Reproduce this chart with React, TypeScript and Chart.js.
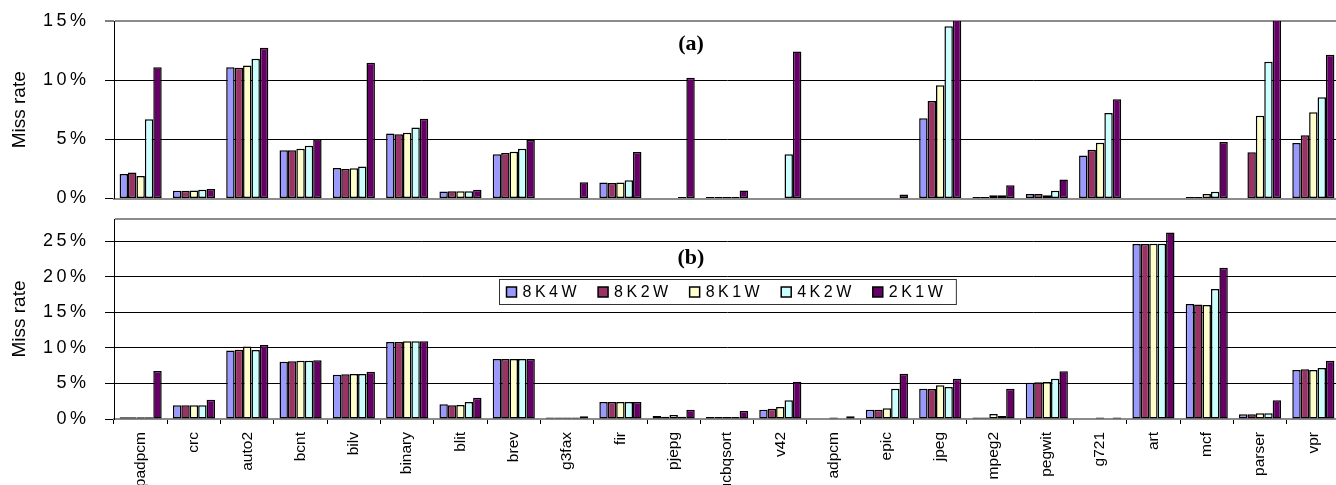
import React, { useEffect, useRef } from "react";
import { Chart, registerables } from "chart.js";

Chart.register(...registerables);

// ---------- data ----------
const categories = [
  "padpcm", "crc", "auto2", "bcnt", "bilv", "binary", "blit", "brev", "g3fax", "fir",
  "pjepg", "ucbqsort", "v42", "adpcm", "epic", "jpeg", "mpeg2", "pegwit", "g721", "art",
  "mcf", "parser", "vpr",
];
const seriesNames = ["8K4W", "8K2W", "8K1W", "4K2W", "2K1W"];
const seriesColors = ["#9999FF", "#993366", "#FFFFCC", "#CCFFFF", "#660066"];

// panel (a) miss rate, %
const a8K4W = [2.06, 0.65, 11.1, 4.07, 2.57, 5.5, 0.6, 3.73, null, 1.36, null, 0.07, null, null, null, 6.78, 0.11, 0.37, 3.64, null, 0.03, null, 4.69];
const a8K2W = [2.2, 0.65, 11.05, 4.07, 2.5, 5.42, 0.62, 3.84, null, 1.3, null, 0.07, null, null, null, 8.25, 0.11, 0.37, 4.12, null, 0.08, 3.9, 5.34];
const a8K1W = [1.9, 0.68, 11.25, 4.2, 2.55, 5.56, 0.62, 3.95, null, 1.36, null, 0.07, null, null, null, 9.58, 0.28, 0.28, 4.72, null, 0.37, 7.0, 7.29];
const a4K2W = [6.7, 0.73, 11.8, 4.46, 2.7, 6.0, 0.62, 4.2, null, 1.55, 0.05, 0.07, 3.73, null, null, 14.55, 0.28, 0.65, 7.23, null, 0.56, 11.55, 8.56];
const a2K1W = [11.1, 0.8, 12.74, 5.0, 11.47, 6.75, 0.73, 4.94, 1.38, 3.93, 10.2, 0.68, 12.43, null, 0.34, 15.35, 1.13, 1.6, 8.39, null, 4.77, 15.35, 12.15];

// panel (b) miss rate, %
const b8K4W = [0.23, 1.92, 9.64, 8.05, 6.23, 10.81, 2.06, 8.43, 0.05, 2.39, 0.42, 0.28, 1.31, null, 1.31, 4.26, 0.14, 5.1, null, 24.58, 16.15, 0.66, 6.88];
const b8K2W = [0.23, 1.92, 9.74, 8.1, 6.27, 10.81, 1.92, 8.43, 0.05, 2.39, 0.33, 0.28, 1.45, null, 1.31, 4.21, 0.19, 5.15, null, 24.58, 16.1, 0.66, 6.98];
const b8K1W = [0.23, 1.92, 10.2, 8.19, 6.32, 10.91, 1.97, 8.43, 0.05, 2.39, 0.56, 0.28, 1.69, 0.14, 1.5, 4.73, 0.7, 5.2, 0.05, 24.63, 16.0, 0.8, 6.88];
const b4K2W = [0.23, 1.92, 9.69, 8.19, 6.32, 10.91, 2.39, 8.43, 0.1, 2.39, 0.33, 0.28, 2.62, null, 4.26, 4.49, 0.42, 5.66, null, 24.63, 18.26, 0.8, 7.16];
const b2K1W = [6.74, 2.72, 10.39, 8.24, 6.65, 10.91, 3.0, 8.43, 0.4, 2.39, 1.31, 1.12, 5.24, 0.37, 6.37, 5.66, 4.26, 6.7, 0.1, 26.2, 21.25, 2.62, 8.19];

const aTicks = [0, 5, 10, 15];
const aMax = 15;
const bTicks = [0, 5, 10, 15, 20, 25];
const bMax = 28.1;

const SANS = '"Liberation Sans", Arial, sans-serif';
const SERIF = '"Liberation Serif", "Times New Roman", serif';

// ---------- plugins ----------
// y tick labels, letter-spaced like the original, placed at the scale's tick values
const yLabelPlugin = {
  id: "yLabels",
  afterDraw(chart: any, _args: any, opts: any) {
    if (!opts || !opts.values) return;
    const s: any = chart.scales.y;
    const ctx: any = chart.ctx;
    const ls = 3.5;
    ctx.save();
    ctx.font = `18px ${SANS}`;
    ctx.letterSpacing = `${ls}px`;
    ctx.fillStyle = "#000";
    ctx.textAlign = "left";
    ctx.textBaseline = "middle";
    const rightEdge = s.right - 28;
    for (const v of opts.values) {
      const text = `${v}%`;
      const w = ctx.measureText(text).width - ls;
      ctx.fillText(text, rightEdge - w, s.getPixelForValue(v));
    }
    ctx.restore();
  },
};

const panelLabelPlugin = {
  id: "panelLabel",
  afterDraw(chart: any, _args: any, opts: any) {
    if (!opts || !opts.text) return;
    const { ctx, chartArea } = chart;
    ctx.save();
    ctx.font = `bold 22px ${SERIF}`;
    ctx.fillStyle = "#000";
    ctx.textAlign = "center";
    ctx.textBaseline = "middle";
    ctx.fillText(opts.text, chartArea.left + opts.fx * (chartArea.right - chartArea.left), chartArea.top + opts.dy);
    ctx.restore();
  },
};

const boxLegendPlugin = {
  id: "boxLegend",
  afterDraw(chart: any, _args: any, opts: any) {
    if (!opts || !opts.show) return;
    const ctx: any = chart.ctx;
    const area = chart.chartArea;
    ctx.save();
    ctx.font = `16px ${SANS}`;
    ctx.letterSpacing = "3.5px";
    const sw = 10, gap = 6, itemGap = 18, padL = 7, padR = 10, h = 25;
    const ds = chart.data.datasets;
    const widths = ds.map((d: any) => ctx.measureText(d.label).width);
    const total = padL + padR + widths.reduce((s: number, w: number) => s + sw + gap + w, 0) + itemGap * (ds.length - 1);
    const left = Math.round((area.left + area.right) / 2 - total / 2) + 0.5;
    const top = Math.round(area.top + opts.dy) + 0.5;
    ctx.fillStyle = "#fff";
    ctx.fillRect(left, top, total, h);
    ctx.strokeStyle = "#333";
    ctx.lineWidth = 1;
    ctx.strokeRect(left, top, total, h);
    let x = left + padL;
    const cy = top + h / 2;
    ds.forEach((d: any, i: number) => {
      ctx.fillStyle = d.backgroundColor;
      ctx.fillRect(x, cy - sw / 2, sw, sw);
      ctx.strokeStyle = "#000";
      ctx.lineWidth = 1.5;
      ctx.strokeRect(x, cy - sw / 2, sw, sw);
      ctx.fillStyle = "#000";
      ctx.textAlign = "left";
      ctx.textBaseline = "middle";
      ctx.fillText(d.label, x + sw + gap, cy + 1);
      x += sw + gap + widths[i] + itemGap;
    });
    ctx.restore();
  },
};

// ---------- config ----------
function makeConfig(series: (number | null)[][], ticks: number[], max: number, panel: "a" | "b") {
  const isBottom = panel === "b";
  return {
    type: "bar" as const,
    data: {
      labels: categories,
      datasets: seriesNames.map((name, i) => ({
        label: name,
        data: series[i],
        backgroundColor: seriesColors[i],
        borderColor: "#000",
        borderWidth: 1.5,
        borderSkipped: false,
        minBarLength: 1.5,
        categoryPercentage: 0.79,
        barPercentage: 1.0,
      })),
    },
    options: {
      responsive: false,
      animation: false as const,
      events: [],
      layout: {
        padding: isBottom
          ? { top: 7, bottom: 0, left: 0, right: 4 }
          : { top: 21, bottom: 13.5, left: 0, right: 4 },
      },
      plugins: {
        legend: { display: false },
        tooltip: { enabled: false },
        yLabels: { values: ticks },
        panelLabel: { text: isBottom ? "(b)" : "(a)", fx: 0.4706, dy: isBottom ? 39 : 23 },
        boxLegend: { show: isBottom, dy: 60 },
      },
      scales: {
        x: {
          type: "category" as const,
          offset: true,
          afterFit: (s: any) => {
            s.height = isBottom ? 66 : 0;
          },
          grid: {
            display: isBottom,
            drawOnChartArea: false,
            drawTicks: isBottom,
            tickLength: 5,
            color: "#000",
            offset: true,
          },
          border: { display: true, color: "#8c8c8c", width: 2 },
          ticks: {
            display: isBottom,
            autoSkip: false,
            maxRotation: 90,
            minRotation: 90,
            padding: 8,
            color: "#000",
            font: { family: SANS, size: 15.5 },
          },
        },
        y: {
          min: 0,
          max: max,
          afterFit: (s: any) => {
            s.width = 114;
            s.paddingTop = 0;
            s.paddingBottom = 0;
          },
          afterBuildTicks: (s: any) => {
            const vals = ticks.includes(max) ? ticks : [...ticks, max];
            s.ticks = vals.map((v) => ({ value: v }));
          },
          grid: {
            color: (c: any) =>
              c.tick && c.tick.value === max ? "#8c8c8c" : c.tick && c.tick.value === 0 ? "rgba(0,0,0,0)" : "#000",
            lineWidth: (c: any) => (c.tick && c.tick.value === max ? 2 : 1),
            tickColor: (c: any) => (c.tick && !ticks.includes(c.tick.value) ? "rgba(0,0,0,0)" : "#000"),
            tickWidth: 1,
            tickLength: 9,
            drawTicks: true,
          },
          border: { display: true, color: "#000", width: 1 },
          ticks: { display: false },
          title: {
            display: true,
            text: "Miss rate",
            color: "#000",
            font: { family: SANS, size: 19 },
            padding: { top: 8, bottom: 0 },
          },
        },
      },
    },
    plugins: [yLabelPlugin, panelLabelPlugin, boxLegendPlugin],
  };
}

export default function App() {
  const topRef = useRef<HTMLCanvasElement>(null);
  const botRef = useRef<HTMLCanvasElement>(null);

  useEffect(() => {
    const c1 = new Chart(topRef.current as HTMLCanvasElement, makeConfig([a8K4W, a8K2W, a8K1W, a4K2W, a2K1W], aTicks, aMax, "a") as any);
    const c2 = new Chart(botRef.current as HTMLCanvasElement, makeConfig([b8K4W, b8K2W, b8K1W, b4K2W, b2K1W], bTicks, bMax, "b") as any);
    return () => {
      c1.destroy();
      c2.destroy();
    };
  }, []);

  return (
    <div style={{ position: "absolute", left: 0, top: 0, width: 1336, height: 485, overflow: "hidden", background: "#fff" }}>
      <canvas ref={botRef} width={1344} height={273} style={{ position: "absolute", left: 0, top: 212 }} />
      <canvas ref={topRef} width={1344} height={212} style={{ position: "absolute", left: 0, top: 0 }} />
    </div>
  );
}
